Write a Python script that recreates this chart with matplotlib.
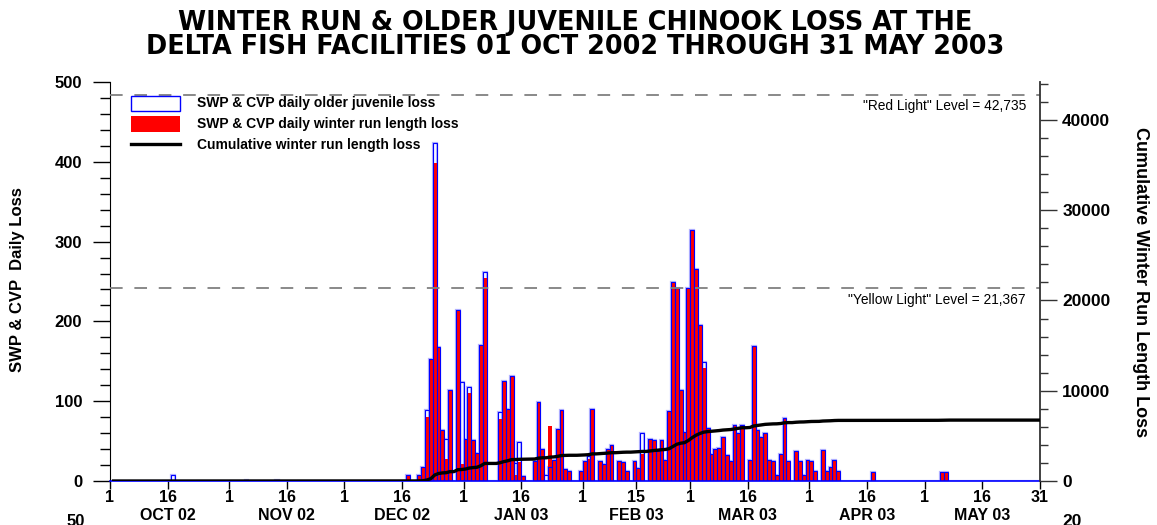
import numpy as np
import pandas as pd
import matplotlib
matplotlib.use('Agg')
import matplotlib.pyplot as plt
from matplotlib.patches import Rectangle
from matplotlib.lines import Line2D
from matplotlib.ticker import MultipleLocator
import matplotlib.transforms as mtransforms

plt.rcParams['font.family'] = ['Liberation Sans', 'DejaVu Sans']
plt.rcParams['font.weight'] = 'bold'

W, H = 1157, 525
start_date = '2002-10-01'
end_date = '2003-05-31'

# ---- data (days not listed are zero) ----
loss_dates = [
    '2002-10-17', '2002-11-05', '2002-11-13',
    '2002-12-17', '2002-12-20', '2002-12-21', '2002-12-22', '2002-12-23', '2002-12-24',
    '2002-12-25', '2002-12-26', '2002-12-27', '2002-12-28', '2002-12-30', '2002-12-31',
    '2003-01-01', '2003-01-02', '2003-01-03', '2003-01-04', '2003-01-05', '2003-01-06',
    '2003-01-10', '2003-01-11', '2003-01-12', '2003-01-13', '2003-01-14', '2003-01-15',
    '2003-01-16', '2003-01-19', '2003-01-20', '2003-01-21', '2003-01-22', '2003-01-23',
    '2003-01-24', '2003-01-25', '2003-01-26', '2003-01-27', '2003-01-28', '2003-01-31',
    '2003-02-01', '2003-02-02', '2003-02-03', '2003-02-05', '2003-02-06', '2003-02-07',
    '2003-02-08', '2003-02-10', '2003-02-11', '2003-02-12', '2003-02-14', '2003-02-15',
    '2003-02-16', '2003-02-18', '2003-02-19', '2003-02-20', '2003-02-21', '2003-02-22',
    '2003-02-23', '2003-02-24', '2003-02-25', '2003-02-26', '2003-02-27', '2003-02-28',
    '2003-03-01', '2003-03-02', '2003-03-03', '2003-03-04', '2003-03-05', '2003-03-06',
    '2003-03-07', '2003-03-08', '2003-03-09', '2003-03-10', '2003-03-11', '2003-03-12',
    '2003-03-13', '2003-03-14', '2003-03-16', '2003-03-17', '2003-03-18', '2003-03-19',
    '2003-03-20', '2003-03-21', '2003-03-22', '2003-03-23', '2003-03-24', '2003-03-25',
    '2003-03-26', '2003-03-28', '2003-03-29', '2003-03-30', '2003-03-31', '2003-04-01',
    '2003-04-02', '2003-04-04', '2003-04-05', '2003-04-06', '2003-04-07', '2003-04-08',
    '2003-04-17', '2003-05-05', '2003-05-06',
]
older_juvenile_loss = [
    7, 1, 1,
    8, 8, 17, 89, 153, 423,
    168, 64, 53, 114, 214, 124,
    53, 118, 51, 35, 170, 262,
    86, 125, 90, 132, 22, 49,
    6, 25, 99, 40, 7, 17,
    26, 65, 89, 15, 13, 13,
    25, 31, 90, 25, 21, 40,
    45, 25, 24, 13, 25, 16,
    60, 53, 51, 37, 52, 26,
    88, 250, 242, 114, 62, 242,
    314, 266, 196, 149, 66, 34,
    40, 41, 55, 33, 25, 70,
    60, 70, 26, 169, 64, 55,
    60, 26, 25, 8, 34, 79,
    25, 38, 25, 8, 26, 25,
    12, 39, 13, 17, 26, 13,
    11, 11, 11,
]
winter_run_loss = [
    0, 0, 0,
    8, 8, 17, 80, 153, 399,
    168, 64, 27, 114, 214, 21,
    53, 110, 51, 35, 170, 254,
    78, 125, 90, 132, 8, 24,
    6, 25, 99, 40, 0, 69,
    26, 65, 89, 15, 13, 13,
    25, 27, 90, 25, 21, 40,
    45, 25, 24, 13, 25, 16,
    34, 53, 51, 37, 52, 26,
    88, 250, 242, 114, 62, 242,
    314, 266, 196, 141, 66, 34,
    40, 41, 55, 33, 25, 70,
    60, 70, 26, 169, 64, 55,
    60, 26, 25, 8, 34, 78,
    25, 38, 25, 8, 26, 25,
    12, 39, 13, 17, 26, 13,
    11, 11, 11,
]

red_light_level = 42735
yellow_light_level = 21367

tick_dates = ['2002-10-01', '2002-10-16', '2002-11-01', '2002-11-16', '2002-12-01',
              '2002-12-16', '2003-01-01', '2003-01-16', '2003-02-01', '2003-02-15',
              '2003-03-01', '2003-03-16', '2003-04-01', '2003-04-16', '2003-05-01',
              '2003-05-16', '2003-05-31']
tick_labels = ['1', '16', '1', '16', '1', '16', '1', '16', '1', '15',
               '1', '16', '1', '16', '1', '16', '31']
month_dates = ['2002-10-16', '2002-11-16', '2002-12-16', '2003-01-16',
               '2003-02-15', '2003-03-16', '2003-04-16', '2003-05-16']
month_labels = ['OCT 02', 'NOV 02', 'DEC 02', 'JAN 03', 'FEB 03', 'MAR 03', 'APR 03', 'MAY 03']

title_lines = ['WINTER RUN & OLDER JUVENILE CHINOOK LOSS AT THE',
               'DELTA FISH FACILITIES 01 OCT 2002 THROUGH 31 MAY 2003']
legend_labels = ['SWP & CVP daily older juvenile loss',
                 'SWP & CVP daily winter run length loss',
                 'Cumulative winter run length loss']

# ---- build daily series ----
t0 = pd.Timestamp(start_date)
days = pd.date_range(start_date, end_date, freq='D')
idx = pd.to_datetime(loss_dates)
juv = pd.Series(older_juvenile_loss, index=idx, dtype=float).reindex(days, fill_value=0.0)
wr = pd.Series(winter_run_loss, index=idx, dtype=float).reindex(days, fill_value=0.0)
cum = wr.cumsum()
xd = np.asarray((days - t0).days, dtype=float)
last = float(xd[-1])


def fx(px):
    return px / W


def fy(py):
    return 1 - py / H


fig = plt.figure(figsize=(W / 100, H / 100), dpi=100)
ax = fig.add_axes([fx(110), fy(481), 930 / W, 399 / H])
ax2 = ax.twinx()
ax.set_zorder(ax2.get_zorder() - 1)
ax.patch.set_visible(False)

# bars
ax.bar(xd, juv.values, width=1.0, align='edge', facecolor='none',
       edgecolor='#b4b4ff', linewidth=1.6, zorder=1.5)
ax.bar(xd, wr.values, width=1.0, align='edge', color='#ff0000', linewidth=0, zorder=2)
ax.bar(xd, juv.values, width=1.0, align='edge', facecolor='none',
       edgecolor='#0000ff', linewidth=0.8, zorder=3)

ax.set_xlim(0, last)
ax.set_ylim(0, 500)

# cumulative + alert levels
ax2.plot(xd + 0.5, cum.values, color='black', lw=2.4, zorder=5, solid_capstyle='butt')
ax2.axhline(red_light_level, color='#808080', lw=1.3, ls=(0, (7, 6.5)), zorder=1)
ax2.axhline(yellow_light_level, color='#808080', lw=1.3, ls=(0, (7, 6.5)), zorder=1)
ax2.set_ylim(0, 44200)
ax2.set_xlim(0, last)

# ticks
tick_pos = [(pd.Timestamp(d) - t0).days for d in tick_dates]
ax.set_xticks(tick_pos)
ax.set_xticklabels(tick_labels)
ax.tick_params(axis='x', direction='out', length=6, width=1, colors='black',
               labelsize=11.5, pad=0.5)
ax.yaxis.set_major_locator(MultipleLocator(100))
ax.yaxis.set_minor_locator(MultipleLocator(20))
ax.tick_params(axis='y', which='major', direction='out', length=12, width=1,
               labelsize=12, pad=8)
ax.tick_params(axis='y', which='minor', direction='out', length=7, width=1)
ax2.yaxis.set_major_locator(MultipleLocator(10000))
ax2.yaxis.set_minor_locator(MultipleLocator(2000))
ax2.tick_params(axis='y', which='major', direction='out', length=12, width=1,
                colors='#333333', labelcolor='black', labelsize=12.5, pad=4)
ax2.tick_params(axis='y', which='minor', direction='out', length=6, width=1, colors='#333333')

for a in (ax, ax2):
    a.spines['top'].set_visible(False)
ax.spines['bottom'].set_color('#0000ff')
ax.spines['bottom'].set_linewidth(1.2)
ax.spines['right'].set_visible(False)
ax2.spines['left'].set_visible(False)
ax2.spines['bottom'].set_visible(False)
ax2.spines['right'].set_color('#333333')
ax2.spines['right'].set_linewidth(1.3)

# month labels
trans = mtransforms.blended_transform_factory(ax.transData, fig.transFigure)
for d, lab in zip(month_dates, month_labels):
    ax.text((pd.Timestamp(d) - t0).days, fy(515), lab, transform=trans,
            ha='center', va='center', fontsize=11.5)

# alert level texts
fig.text(fx(1026), fy(106), f'"Red Light" Level = {red_light_level:,}',
         ha='right', va='center', fontsize=9.9, fontweight='normal')
fig.text(fx(1026), fy(300), f'"Yellow Light" Level = {yellow_light_level:,}',
         ha='right', va='center', fontsize=9.9, fontweight='normal')

# title (two lines in one text) / axis labels
fig.text(fx(575), fy(35), '\n'.join(title_lines), ha='center', va='center',
         fontsize=18.4, family='DejaVu Sans', linespacing=0.86)
fig.text(fx(18), fy(280), 'SWP & CVP  Daily Loss', rotation=90,
         ha='center', va='center', fontsize=12)
fig.text(fx(1141), fy(282), 'Cumulative Winter Run Length Loss', rotation=270,
         ha='center', va='center', fontsize=13)

# legend (manual)
fig.patches.append(Rectangle((fx(131), fy(111)), 49 / W, 15 / H, transform=fig.transFigure,
                             facecolor='white', edgecolor='#0000ff', lw=1.0))
fig.patches.append(Rectangle((fx(131), fy(132)), 49 / W, 16 / H, transform=fig.transFigure,
                             facecolor='#ff0000', edgecolor='none'))
fig.lines.append(Line2D([fx(131), fx(180)], [fy(144), fy(144)], transform=fig.transFigure,
                        color='black', lw=2.4))
for i, lab in enumerate(legend_labels):
    fig.text(fx(197), fy(103.5 + 20.5 * i), lab, ha='left', va='center', fontsize=10)

# partially visible labels of the next chart below
fig.text(fx(85), fy(514), '50', ha='right', va='top', fontsize=12)
fig.text(fx(1062), fy(514), '20', ha='left', va='top', fontsize=12.5)

fig.savefig('out.png', dpi=100)
